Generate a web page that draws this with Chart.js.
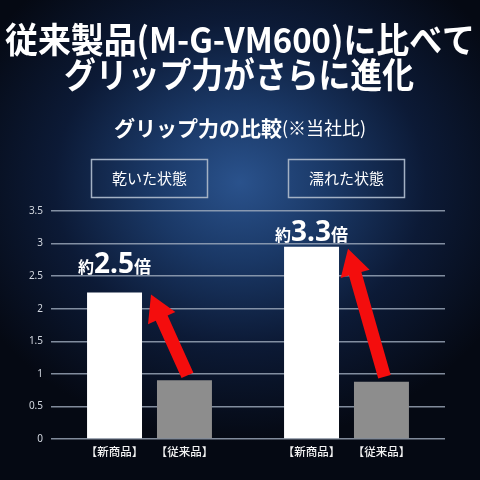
<!DOCTYPE html>
<html>
<head>
<meta charset="utf-8">
<script src="https://cdn.jsdelivr.net/npm/chart.js@4"></script>
<style>
  html, body { margin: 0; padding: 0; }
  body {
    width: 480px; height: 480px; overflow: hidden;
    background: radial-gradient(ellipse 300px 260px at 50% 38%, #2a528c 0%, #1a3866 30%, #0c1a36 62%, #050913 100%);
  }
  #wrap { position: absolute; left: 0; top: 0; width: 480px; height: 480px; }
</style>
</head>
<body>
<div id="wrap"><canvas id="c" width="480" height="480"></canvas></div>
<script>
// data
const categories = ['乾いた状態', '濡れた状態'];
const seriesNames = ['【新商品】', '【従来品】'];
const newProduct = [2.25, 2.95];
const oldProduct = [0.9, 0.88];
const ratioLabels = ['2.5', '3.3'];
const yMin = 0, yMax = 3.5, yStep = 0.5;

const titleLines = ['従来製品(M-G-VM600)に比べて', 'グリップ力がさらに進化'];
const subtitleMain = 'グリップ力の比較';
const subtitleNote = '(※当社比)';

const JP = '"Noto Sans CJK JP", "Noto Sans", sans-serif';
const labelLift = [19, 6]; // how far the ratio text sits above each white bar

function drawArrow(ctx, x1, y1, x2, y2) {
  const ang = Math.atan2(y2 - y1, x2 - x1);
  const len = Math.hypot(x2 - x1, y2 - y1);
  const shaft = 6.5, headLen = 26, headHalf = 15;
  ctx.save();
  ctx.translate(x1, y1);
  ctx.rotate(ang);
  ctx.beginPath();
  ctx.moveTo(0, -shaft);
  ctx.lineTo(len - headLen, -shaft);
  ctx.lineTo(len - headLen, -headHalf);
  ctx.lineTo(len, 0);
  ctx.lineTo(len - headLen, headHalf);
  ctx.lineTo(len - headLen, shaft);
  ctx.lineTo(0, shaft);
  ctx.closePath();
  ctx.fillStyle = '#f40d0d';
  ctx.fill();
  ctx.restore();
}

const overlay = {
  id: 'overlay',
  afterDraw(chart) {
    const ctx = chart.ctx;
    const xs = chart.scales.x;
    const newBars = chart.getDatasetMeta(0).data;
    const oldBars = chart.getDatasetMeta(1).data;
    ctx.save();
    ctx.fillStyle = '#ffffff';
    ctx.textAlign = 'center';
    ctx.textBaseline = 'alphabetic';

    // titles
    ctx.font = 'bold 35px ' + JP;
    ctx.fillText(titleLines[0], 240, 53, 470);
    ctx.fillText(titleLines[1], 239, 88, 350);

    // subtitle
    ctx.font = 'bold 21px ' + JP;
    const w1 = ctx.measureText(subtitleMain).width;
    ctx.font = '18px ' + JP;
    const w2 = ctx.measureText(subtitleNote).width;
    let sx = 240 - (w1 + w2) / 2;
    ctx.textAlign = 'left';
    ctx.font = 'bold 21px ' + JP;
    ctx.fillText(subtitleMain, sx, 136);
    ctx.font = '18px ' + JP;
    ctx.fillText(subtitleNote, sx + w1, 135);

    // category boxes
    categories.forEach((c, i) => {
      const cx = xs.getPixelForValue(i);
      ctx.strokeStyle = '#a3b1c4';
      ctx.lineWidth = 1.5;
      ctx.strokeRect(cx - 58, 159.5, 116, 38);
      ctx.textAlign = 'center';
      ctx.fillStyle = '#ffffff';
      ctx.font = '15px ' + JP;
      ctx.fillText(c, cx, 184);
    });

    // bar labels under the axis
    ctx.font = '500 11.5px ' + JP;
    ctx.fillStyle = '#f2f2f2';
    [newBars, oldBars].forEach((bars, s) => {
      bars.forEach(b => ctx.fillText(seriesNames[s], b.x, 456));
    });

    // arrows from old bar to new bar
    newBars.forEach((nb, i) => {
      const ob = oldBars[i];
      drawArrow(ctx, ob.x + 3, ob.y - 5, nb.x + nb.width / 2 + 9, nb.y + 2);
    });

    // ratio text
    newBars.forEach((nb, i) => {
      const parts = [['約', 'bold 16px ' + JP], [ratioLabels[i], 'bold 28px "Noto Sans", sans-serif'], ['倍', 'bold 17px ' + JP]];
      const widths = parts.map(p => { ctx.font = p[1]; return ctx.measureText(p[0]).width; });
      let x = nb.x - widths.reduce((a, b) => a + b, 0) / 2;
      const y = nb.y - labelLift[i];
      ctx.textAlign = 'left';
      ctx.fillStyle = '#ffffff';
      parts.forEach((p, k) => { ctx.font = p[1]; ctx.fillText(p[0], x, y); x += widths[k]; });
    });
    ctx.restore();
  }
};

new Chart(document.getElementById('c'), {
  type: 'bar',
  data: {
    labels: categories,
    datasets: [
      { label: seriesNames[0], data: newProduct, backgroundColor: '#ffffff' },
      { label: seriesNames[1], data: oldProduct, backgroundColor: '#8d8d8d' }
    ]
  },
  options: {
    responsive: false,
    animation: false,
    devicePixelRatio: 1,
    categoryPercentage: 0.71,
    barPercentage: 0.786,
    layout: { padding: { top: 211, bottom: 41, right: 35, left: 0 } },
    plugins: { legend: { display: false }, tooltip: { enabled: false } },
    scales: {
      x: { display: false },
      y: {
        min: yMin, max: yMax,
        ticks: {
          stepSize: yStep, color: '#d3d8e0', padding: 8,
          font: { size: 10, family: '"Noto Sans", sans-serif' },
          callback: v => String(v)
        },
        grid: { color: 'rgba(160,172,190,0.8)', lineWidth: 1.5, drawTicks: false },
        border: { display: false },
        afterFit(scale) { scale.width = 51; }
      }
    }
  },
  plugins: [overlay]
});
</script>
</body>
</html>
